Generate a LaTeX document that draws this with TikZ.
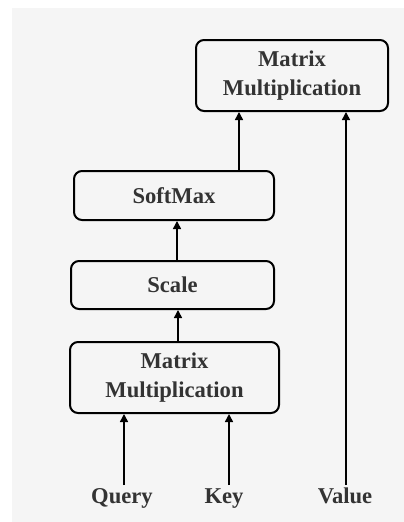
\documentclass[tikz,border=0pt]{standalone}
\usepackage{fontspec}
\setmainfont{Liberation Serif}
\usetikzlibrary{arrows.meta}
\definecolor{bg}{HTML}{F5F5F5}
\definecolor{txt}{HTML}{333333}
\tikzset{
  box/.style={draw=black, line width=2pt, rounded corners=8pt, inner sep=0pt, align=center,
    font=\fontsize{22.6}{29}\selectfont\bfseries, text=txt},
  lbl/.style={font=\fontsize{22.6}{29}\selectfont\bfseries, text=txt, inner sep=0pt, anchor=base},
  arr/.style={line width=1.5pt, -{Triangle[length=8pt,width=8pt]}}
}
\begin{document}
\begin{tikzpicture}[x=1pt,y=-1pt]
\useasboundingbox (0,0) rectangle (404,522);
\fill[white] (0,0) rectangle (404,522);
\fill[bg] (12,8) rectangle (404,522);
\node[box, minimum width=192pt, minimum height=71pt] (mm2) at (292,75.5) {Matrix\\Multiplication};
\node[box, minimum width=200pt, minimum height=49pt] (soft) at (174,195.5) {SoftMax};
\node[box, minimum width=203pt, minimum height=48pt] (scale) at (172.5,285) {Scale};
\node[box, minimum width=209pt, minimum height=71pt] (mm1) at (174.5,377.5) {Matrix\\Multiplication};
\node[lbl] (q) at (122,503) {Query};
\node[lbl] (k) at (224,503) {Key};
\node[lbl] (v) at (345,503) {Value};
\coordinate (qa) at (124,485);
\coordinate (ka) at (229,485);
\coordinate (va) at (346,485);
\coordinate (s1) at (178,0);
\coordinate (s2) at (177,0);
\coordinate (s3) at (239,0);
\draw[arr] (qa) -- (qa |- mm1.south);
\draw[arr] (ka) -- (ka |- mm1.south);
\draw[arr] (va) -- (va |- mm2.south);
\draw[arr] (s1 |- mm1.north) -- (s1 |- scale.south);
\draw[arr] (s2 |- scale.north) -- (s2 |- soft.south);
\draw[arr] (s3 |- soft.north) -- (s3 |- mm2.south);
\end{tikzpicture}
\end{document}
